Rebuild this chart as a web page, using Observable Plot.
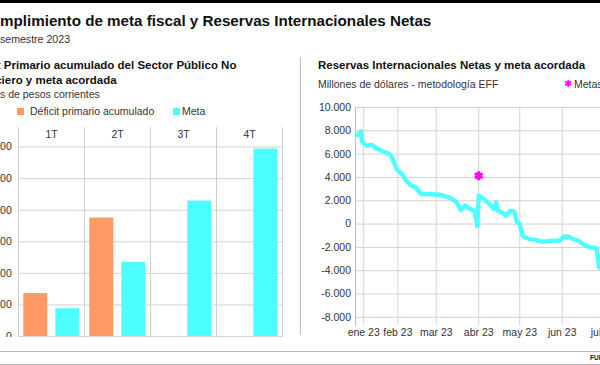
<!DOCTYPE html>
<html><head><meta charset="utf-8">
<script src="https://cdn.jsdelivr.net/npm/d3@7"></script>
<script src="https://cdn.jsdelivr.net/npm/@observablehq/plot@0.6"></script>
<style>
html,body{margin:0;padding:0;background:#fff;}
body{width:600px;height:365px;overflow:hidden;position:relative;font-family:"Liberation Sans",Arial,sans-serif;color:#111;}
.abs{position:absolute;white-space:nowrap;line-height:1;}
svg{max-width:none !important;}
</style></head><body>
<div class="abs" style="left:0;top:0;width:600px;height:3px;background:#000;"></div>
<div class="abs" style="left:-20.3px;top:13.2px;font-size:15.2px;font-weight:bold;">Cumplimiento de meta fiscal y Reservas Internacionales Netas</div>
<div class="abs" style="left:-34.2px;top:33.6px;font-size:10.6px;color:#333;">Primer semestre 2023</div>

<div class="abs" style="left:-34.5px;top:60.2px;font-size:11.5px;font-weight:bold;">Déficit Primario acumulado del Sector Público No</div>
<div class="abs" style="left:-35.5px;top:74.5px;font-size:11.5px;font-weight:bold;">Financiero y meta acordada</div>
<div class="abs" style="left:-33.3px;top:88.7px;font-size:10.5px;color:#333;">Millones de pesos corrientes</div>
<div class="abs" style="left:17.3px;top:108.3px;width:6.5px;height:6.5px;background:#ff9a66;"></div>
<div class="abs" style="left:30px;top:105.9px;font-size:10.5px;color:#333;">Déficit primario acumulado</div>
<div class="abs" style="left:173px;top:108.3px;width:6.5px;height:6.5px;background:#4dffff;"></div>
<div class="abs" style="left:182px;top:105.9px;font-size:10.5px;color:#333;">Meta</div>

<div class="abs" style="left:300px;top:57px;width:1px;height:278px;background:#bbb;"></div>

<div class="abs" style="left:318px;top:59.7px;font-size:11.5px;font-weight:bold;">Reservas Internacionales Netas y meta acordada</div>
<div class="abs" style="left:318px;top:78.6px;font-size:10.5px;color:#333;">Millones de dólares - metodología EFF</div>
<div class="abs" style="left:564px;top:79px;font-size:9.5px;color:#f0f;">✱</div>
<div class="abs" style="left:574px;top:78.6px;font-size:10.5px;color:#333;">Metas</div>

<div id="left" class="abs" style="left:-40px;top:120px;width:325px;"></div>
<div id="right" class="abs" style="left:300px;top:95px;width:350px;"></div>

<div class="abs" style="left:0;top:351px;width:600px;height:1px;background:#bbb;"></div>
<div class="abs" style="left:590px;top:354.5px;font-size:6.5px;font-weight:bold;">FUENTE: BCRA y Ministerio de Economía</div>
<div class="abs" style="left:0;top:363.5px;width:600px;height:1px;background:#bbb;"></div>

<script>
// ---- Left chart data ----
const quarters = ["1T", "2T", "3T", "4T"];
const seriesNames = ["Déficit primario acumulado", "Meta"];
const deficit = [680000, 1875000, null, null];
const meta = [439000, 1173000, 2145000, 2968000];
const yTicksLeft = [0, 500000, 1000000, 1500000, 2000000, 2500000, 3000000];

// ---- Right chart data ----
const rinDates = ["2023-01-02","2023-01-04","2023-01-05","2023-01-06","2023-01-09","2023-01-13","2023-01-16","2023-01-20","2023-01-24","2023-01-26","2023-01-28","2023-01-31","2023-02-04","2023-02-07","2023-02-10","2023-02-14","2023-02-16","2023-02-18","2023-02-22","2023-03-04","2023-03-09","2023-03-14","2023-03-16","2023-03-19","2023-03-22","2023-03-25","2023-03-29","2023-03-31","2023-04-01","2023-04-05","2023-04-10","2023-04-12","2023-04-14","2023-04-15","2023-04-18","2023-04-21","2023-04-24","2023-04-27","2023-04-29","2023-05-01","2023-05-03","2023-05-08","2023-05-13","2023-05-18","2023-05-25","2023-05-30","2023-06-02","2023-06-06","2023-06-09","2023-06-13","2023-06-16","2023-06-21","2023-06-26","2023-06-28","2023-06-30"];
const rinValues = [7650,7750,7950,7050,6720,6800,6520,6290,6090,6000,5630,4720,4290,3720,3370,3140,2860,2575,2575,2515,2340,2060,1850,1200,1570,1370,1080,-150,2430,2150,1570,1290,1850,1140,1000,710,1140,1080,140,50,-1000,-1290,-1370,-1520,-1430,-1430,-1090,-1090,-1290,-1430,-1720,-2000,-2060,-3700,-3850];
const metaDates = ["2023-04-01", "2023-07-02"];
const metaValues = [4150, 9100];
const xTicks = ["2023-01-07","2023-02-01","2023-03-01","2023-04-01","2023-05-01","2023-06-01","2023-07-01"];
const yTicksRight = [-8000,-6000,-4000,-2000,0,2000,4000,6000,8000,10000];

const ORANGE = "#ff9a66", CYAN = "#4dffff", MAGENTA = "#ff00ff", GRID = "#d2d2d2";

const numLocale = d3.formatLocale({decimal: ",", thousands: ".", grouping: [3], currency: ["$", ""], minus: "-"});
const fmt = numLocale.format(",");
const timeLocale = d3.timeFormatLocale({
  dateTime: "%x, %X", date: "%d/%m/%Y", time: "%H:%M:%S", periods: ["AM", "PM"],
  days: ["domingo","lunes","martes","miércoles","jueves","viernes","sábado"],
  shortDays: ["dom","lun","mar","mié","jue","vie","sáb"],
  months: ["enero","febrero","marzo","abril","mayo","junio","julio","agosto","septiembre","octubre","noviembre","diciembre"],
  shortMonths: ["ene","feb","mar","abr","may","jun","jul","ago","sep","oct","nov","dic"]
});
const fmtDate = timeLocale.utcFormat("%b %y");

// Left chart table
const rows = [];
quarters.forEach((q, i) => {
  if (deficit[i] != null) rows.push({q, serie: seriesNames[0], value: deficit[i]});
  if (meta[i] != null) rows.push({q, serie: seriesNames[1], value: meta[i]});
});

const leftPlot = Plot.plot({
  width: 325, height: 217,
  marginLeft: 56.7, marginRight: 1.7, marginTop: 7, marginBottom: 1,
  style: {fontFamily: "'Liberation Sans', Arial, sans-serif", fontSize: "10.5px", color: "#333", background: "transparent"},
  fx: {domain: quarters, axis: null, paddingInner: 0, paddingOuter: 0},
  x: {domain: seriesNames, axis: null, paddingInner: 0.25, paddingOuter: 0.15},
  y: {domain: [0, 3310000]},
  color: {domain: seriesNames, range: [ORANGE, CYAN]},
  marks: [
    Plot.gridY(yTicksLeft, {stroke: GRID, strokeOpacity: 1}),
    Plot.frame({anchor: "left", stroke: "#cfcfcf"}),
    Plot.frame({anchor: "right", stroke: "#cfcfcf"}),
    Plot.barY(rows, {fx: "q", x: "serie", y: "value", fill: "serie"}),
    Plot.text(quarters, {fx: d => d, text: d => d, frameAnchor: "top", dy: 3, fill: "#333"}),
    Plot.axisY(yTicksLeft, {tickFormat: fmt, tickSize: 0, tickPadding: 6.7, fill: "#333", label: null})
  ]
});
document.getElementById("left").appendChild(leftPlot);

// Right chart
const rin = rinDates.map((d, i) => ({date: new Date(d), value: rinValues[i]}));
const metas = metaDates.map((d, i) => ({date: new Date(d), value: metaValues[i]}));
const xTickDates = xTicks.map(d => new Date(d));

const rightPlot = Plot.plot({
  width: 350, height: 255,
  marginLeft: 55, marginRight: 4.8, marginTop: 12, marginBottom: 25,
  style: {fontFamily: "'Liberation Sans', Arial, sans-serif", fontSize: "10.5px", color: "#333", background: "transparent", overflow: "visible"},
  x: {type: "utc", domain: [new Date("2023-01-01"), new Date("2023-08-01")]},
  y: {domain: [-8700, 10000]},
  marks: [
    Plot.gridY(yTicksRight, {stroke: GRID, strokeOpacity: 1}),
    Plot.gridX(xTickDates, {stroke: GRID, strokeOpacity: 1}),
    Plot.frame({anchor: "left", stroke: "#bdbdbd"}),
    Plot.line(rin, {x: "date", y: "value", stroke: CYAN, strokeWidth: 4.4, strokeLinejoin: "round", strokeLinecap: "round"}),
    Plot.dot(metas, {x: "date", y: "value", symbol: "asterisk", stroke: MAGENTA, strokeWidth: 3, r: 4.2}),
    Plot.axisY(yTicksRight, {tickFormat: fmt, tickSize: 0, tickPadding: 4.5, fill: "#333", label: null}),
    Plot.axisX(xTickDates, {tickFormat: fmtDate, tickSize: 0, tickPadding: 3, fill: "#333", label: null})
  ]
});
document.getElementById("right").appendChild(rightPlot);
</script>
</body></html>
